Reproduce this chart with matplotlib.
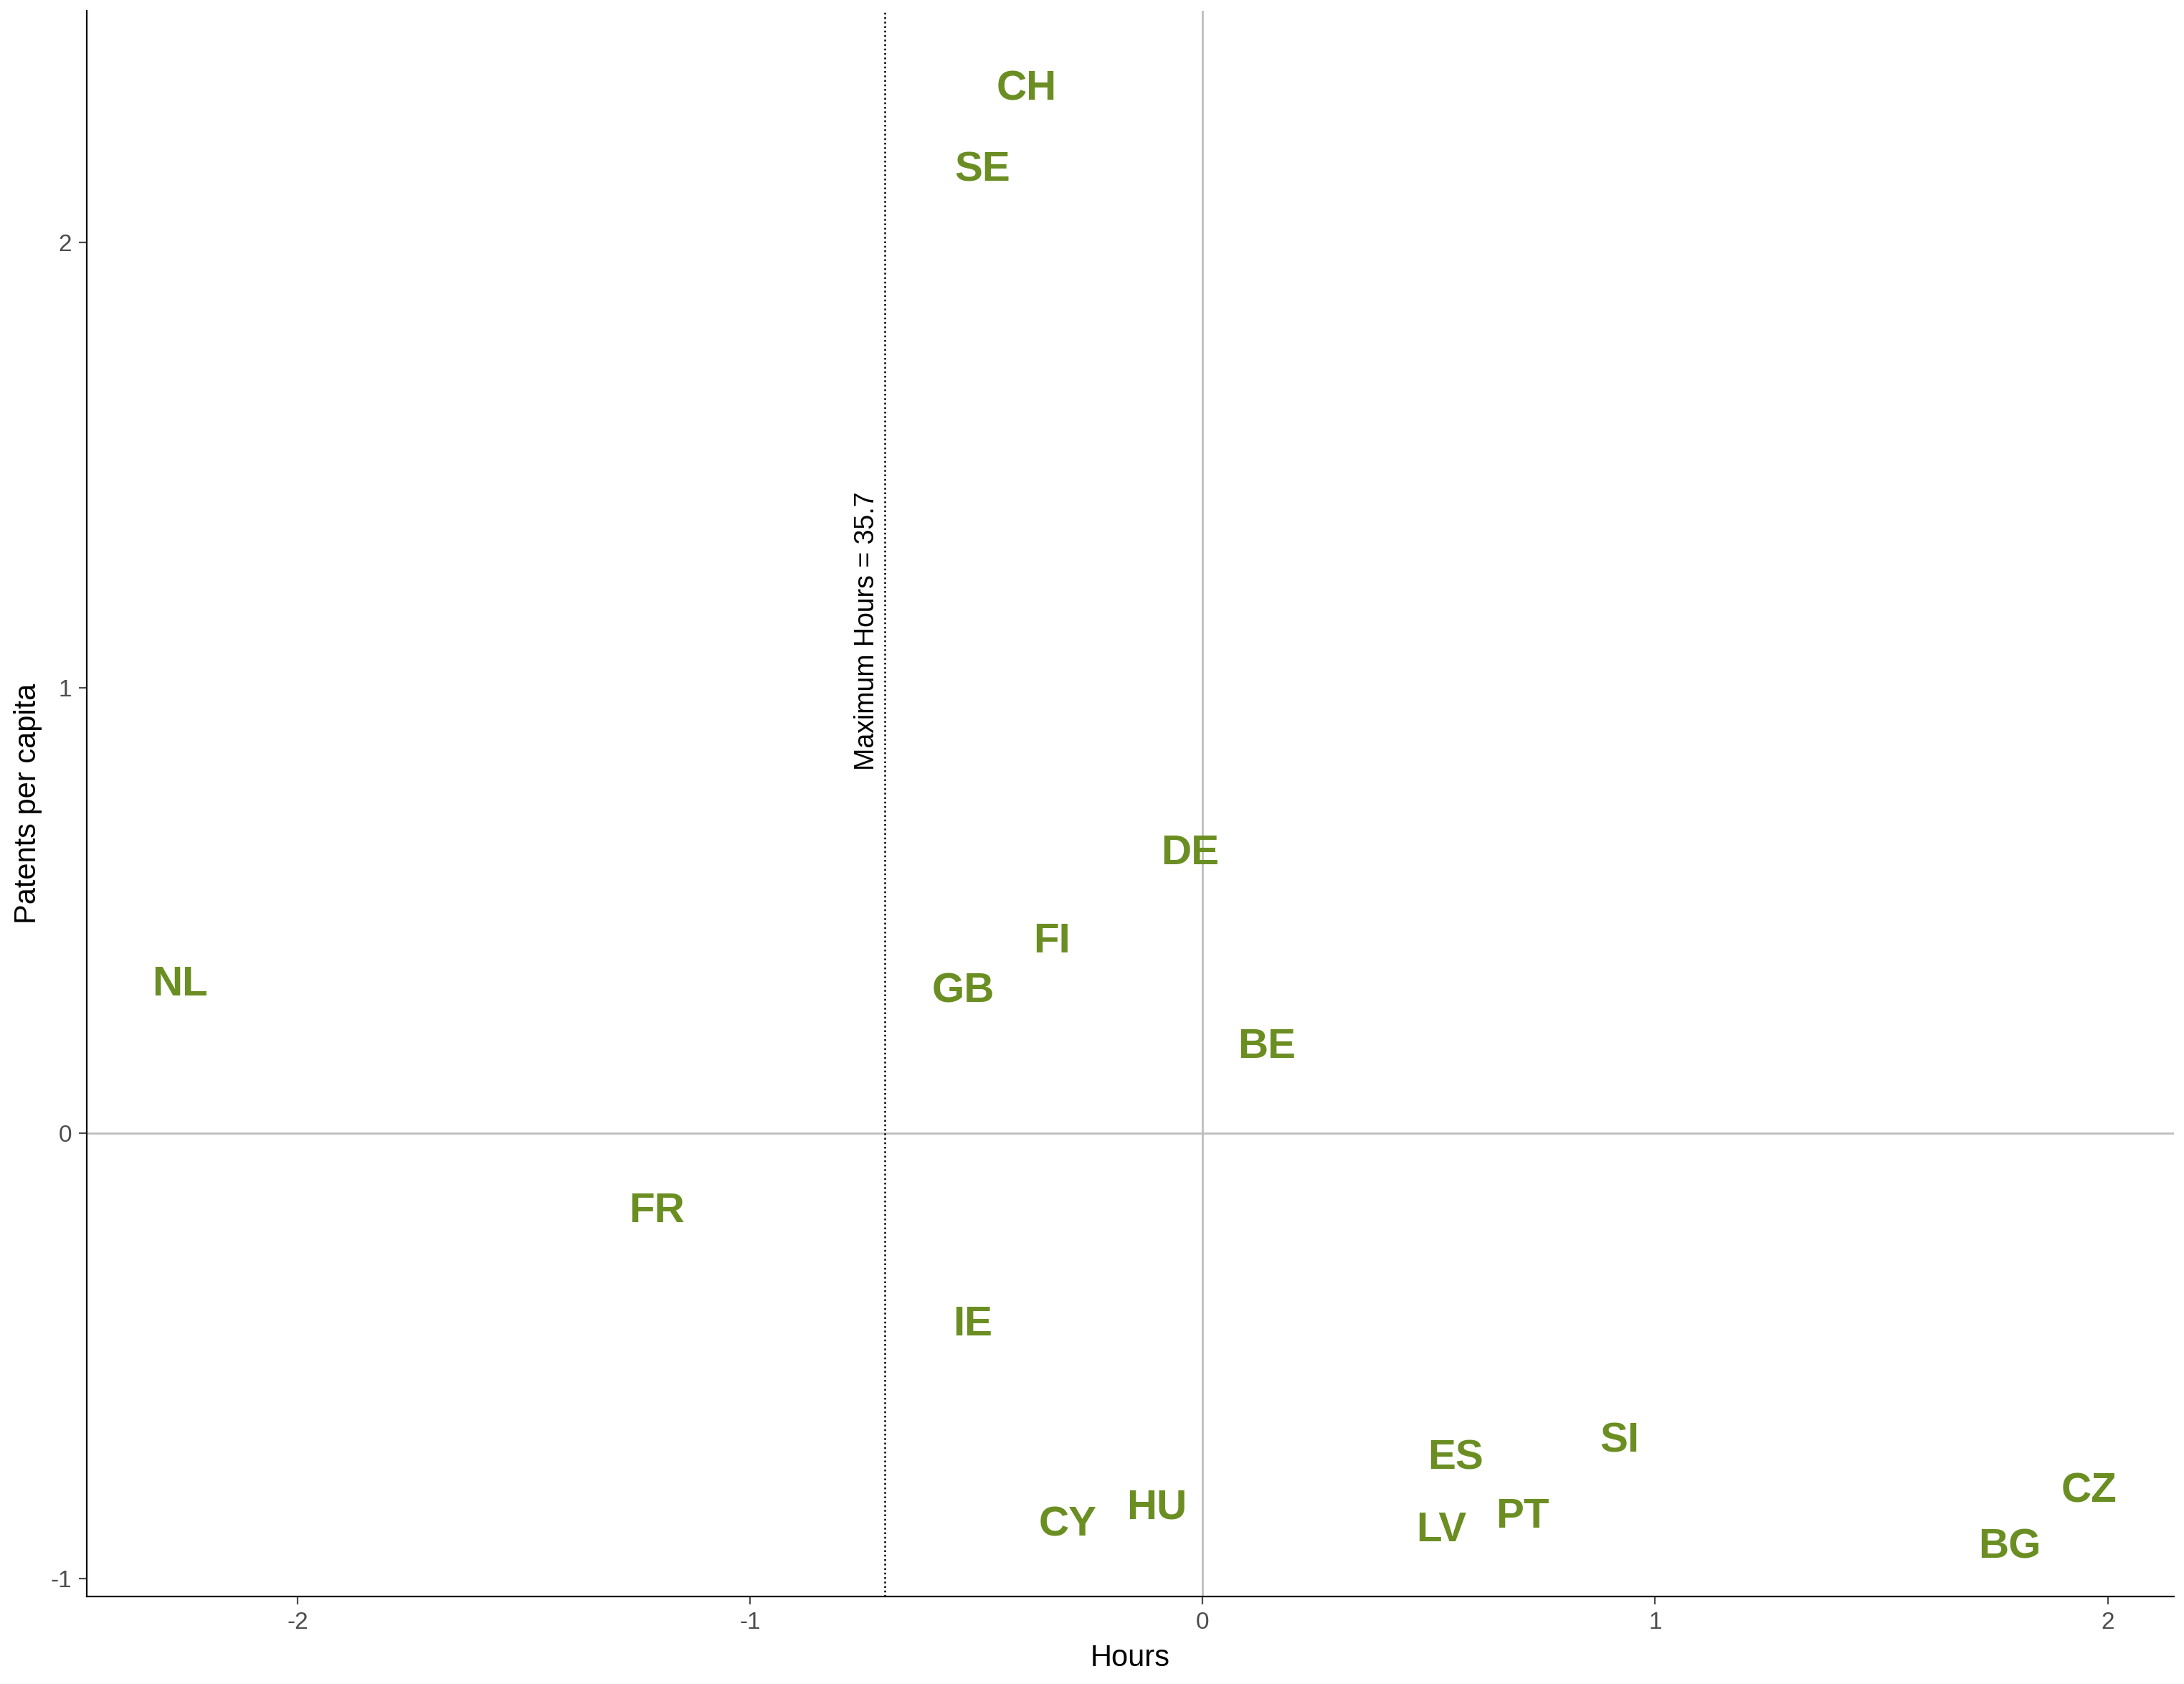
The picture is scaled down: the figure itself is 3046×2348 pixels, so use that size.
import matplotlib
matplotlib.use("Agg")
import matplotlib.pyplot as plt

countries = ["CH","SE","DE","FI","GB","NL","BE","FR","IE","ES","SI","CZ","BG","PT","LV","HU","CY"]
hours = [-0.389,-0.487,-0.028,-0.333,-0.530,-2.261,0.142,-1.206,-0.509,0.558,0.922,1.958,1.783,0.706,0.527,-0.102,-0.299]
patents = [2.345,2.163,0.628,0.43,0.318,0.334,0.193,-0.176,-0.43,-0.73,-0.692,-0.805,-0.93,-0.861,-0.892,-0.842,-0.88]
max_hours_x = -0.703

plt.rcParams['font.family'] = ['Liberation Sans', 'DejaVu Sans']
plt.rcParams['axes.unicode_minus'] = False
fig = plt.figure(figsize=(15.23, 11.74), dpi=200)
ax = fig.add_axes([0.0396, 0.052, 0.9559, 0.9414])
ax.set_xlim(-2.467, 2.147)
ax.set_ylim(-1.04, 2.52)
ax.axhline(0, color="#bebebe", lw=1)
ax.axvline(0, color="#bebebe", lw=1)
ax.axvline(max_hours_x, color="black", lw=0.9, ls=(0, (1, 1.5)))
ax.text(max_hours_x - 0.04, 1.128, "Maximum Hours = 35.7", rotation=90, ha="center", va="center", fontsize=13.5)
for c, x, y in zip(countries, hours, patents):
    ax.text(x, y, c, color="#6B8E23", fontsize=21, fontweight="bold", ha="center", va="center")
ax.set_xticks([-2, -1, 0, 1, 2])
ax.set_yticks([-1, 0, 1, 2])
ax.tick_params(labelsize=12, colors="#4d4d4d", length=4)
for s in ["top", "right"]:
    ax.spines[s].set_visible(False)
ax.set_xlabel("Hours", fontsize=15, labelpad=5)
ax.set_ylabel("Patents per capita", fontsize=15, labelpad=4)
fig.savefig("out.png", dpi=200)
